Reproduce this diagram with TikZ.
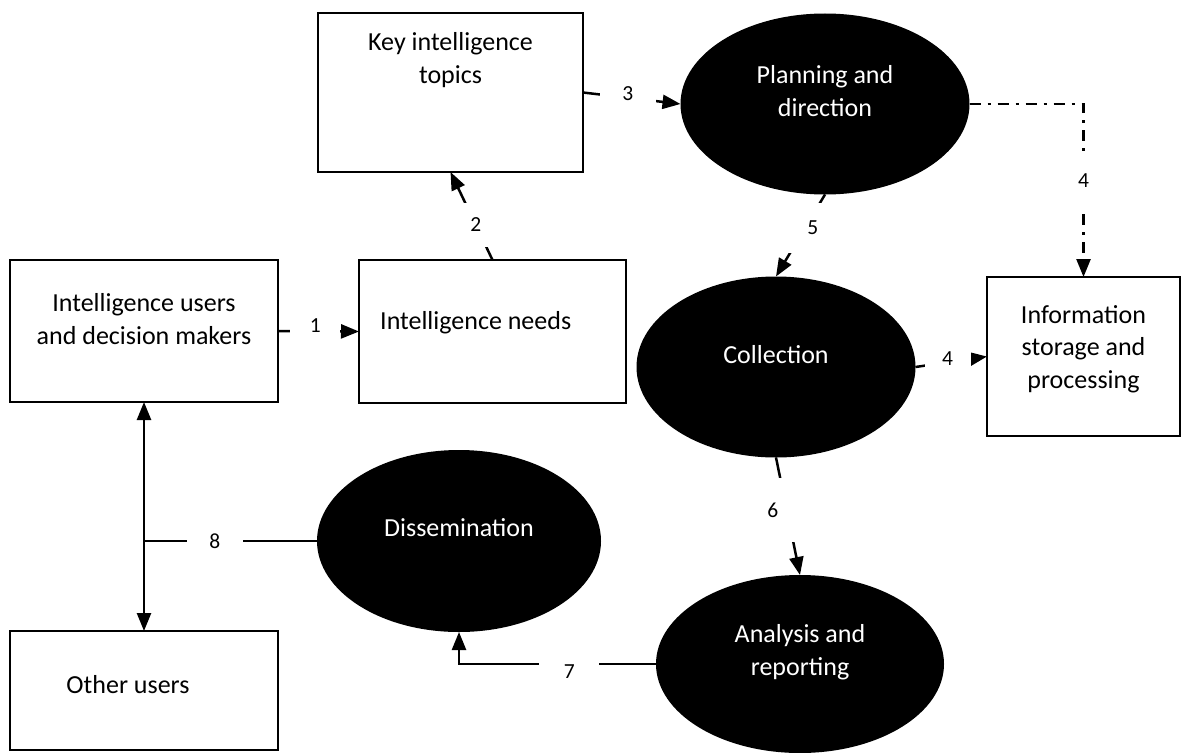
\documentclass[tikz,border=0pt]{standalone}
\usepackage{fontspec}
\setmainfont{Carlito}
\usetikzlibrary{shapes.geometric,arrows.meta}
\begin{document}
\begin{tikzpicture}[x=1pt,y=-1pt,
  box/.style={draw=black,line width=2pt,fill=white,inner sep=0pt,outer sep=0pt},
  oval/.style={ellipse,fill=black,inner sep=0pt,outer sep=0pt},
  txt/.style={font=\fontsize{26}{32.5}\selectfont,align=center,inner sep=0pt},
  wtxt/.style={txt,text=white},
  flow/.style={line width=2.5pt,-{Triangle[length=18pt,width=14pt]}},
  lbl/.style={fill=white,font=\fontsize{21.5}{26}\selectfont,inner sep=0pt,minimum width=50pt,minimum height=50pt},
]
\useasboundingbox (0,0) rectangle (1182,752);

% rectangles
\node[box,minimum width=265pt,minimum height=159pt] (kit) at (450.5,92.5) {};
\node[box,minimum width=268pt,minimum height=142pt] (users) at (144,331) {};
\node[box,minimum width=267pt,minimum height=143pt] (needs) at (492.5,331.5) {};
\node[box,minimum width=193pt,minimum height=159pt] (store) at (1083.5,356.5) {};
\node[box,minimum width=268pt,minimum height=119pt] (other) at (144,690.5) {};

% process ovals
\node[oval,minimum width=289pt,minimum height=181pt] (plan) at (825,104) {};
\node[oval,minimum width=279pt,minimum height=181pt] (coll) at (776,367) {};
\node[oval,minimum width=284pt,minimum height=182pt] (dis) at (459,541) {};
\node[oval,minimum width=288pt,minimum height=178pt] (ana) at (800,664) {};

% texts
\node[txt] (kitT) at (450.5,60) {Key intelligence\\topics};
\node[txt] (usersT) at (144,319) {Intelligence users\\and decision makers};
\node[txt,anchor=west] (needsT) at (380,323) {Intelligence needs};
\node[txt] (storeT) at (1083.5,349) {Information\\storage and\\processing};
\node[txt] (otherT) at (128,685) {Other users};
\node[wtxt] (planT) at (825,91) {Planning and\\direction};
\node[wtxt] (collT) at (776,355) {Collection};
\node[wtxt] (disT) at (459,528) {Dissemination};
\node[wtxt] (anaT) at (800,652) {Analysis and\\reporting};

% flows
\draw[flow] (users.east) -- node[lbl,pos=0.46,yshift=6pt] (l1) {1} (needs.west);
\draw[flow] (needs.north) -- node[lbl,pos=0.40,minimum height=44pt] (l2) {2} (kit.south);
\draw[flow] (kit.east) -- node[lbl,pos=0.46,minimum width=56pt,yshift=4pt] (l3) {3} (plan.west);
\draw[flow,dash pattern=on 11pt off 7pt on 3pt off 7pt] (plan.east) -| node[lbl,pos=0.72,minimum height=58pt] (l4a) {4} (store.north);
\draw[flow] (plan.south) -- node[lbl,pos=0.41,xshift=8pt] (l5) {5} (coll.north);
\draw[flow] (coll.east) -- node[lbl,pos=0.45,minimum width=46pt,yshift=4pt] (l4b) {4} (store.west);
\draw[flow] (coll.south) -- node[lbl,pos=0.45,minimum height=64pt,xshift=-14pt] (l6) {6} (ana.north);
\draw[flow] (ana.west) -| node[lbl,pos=0.22,minimum width=60pt,yshift=-8pt] (l7) {7} (dis.south);
\draw[line width=2.5pt,{Triangle[length=18pt,width=14pt]}-{Triangle[length=18pt,width=14pt]}] (users.south) -- (other.north);
\draw[line width=2.5pt] (dis.west) -- node[lbl,pos=0.59,minimum width=56pt] (l8) {8} (dis.west -| users.south);
\end{tikzpicture}
\end{document}
